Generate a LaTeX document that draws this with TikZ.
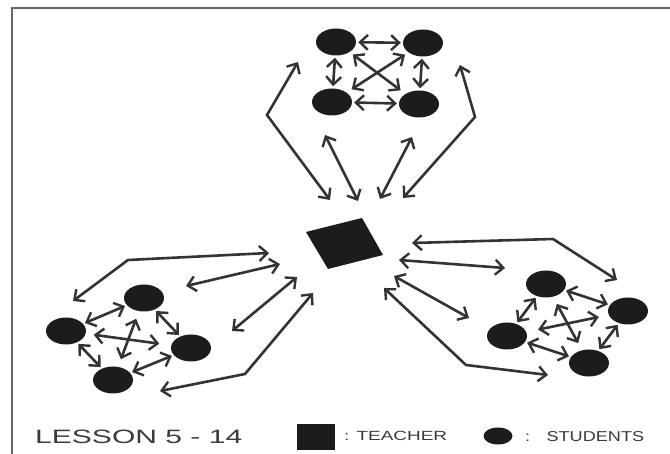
\documentclass[tikz,border=0pt]{standalone}
\usepackage{fontspec}
\setmainfont{Liberation Sans}
\usetikzlibrary{arrows.meta,shapes.geometric}
\definecolor{ink}{HTML}{1C1C1C}
\definecolor{arrowgray}{HTML}{333333}
\definecolor{textgray}{HTML}{3A3A3A}
\definecolor{framegray}{HTML}{666666}
\tikzset{
  barbs/.style={{Straight Barb[length=8pt,width=15pt,line width=2.4pt]}-{Straight Barb[length=8pt,width=15pt,line width=2.4pt]}},
  student/.style={ellipse, fill=ink, draw=none, inner sep=0pt,
    minimum width=40pt, minimum height=27pt},
  link/.style={arrowgray, line width=2.6pt, line join=miter, barbs,
    shorten <=2pt, shorten >=2pt},
  flow/.style={arrowgray, line width=2.6pt, line join=miter, barbs},
  legendtext/.style={inner sep=0pt, anchor=south west, text=textgray}
}
\begin{document}
\begin{tikzpicture}[x=1pt, y=-1pt]
  \useasboundingbox (0,0) rectangle (670,454);
  % frame
  \draw[framegray, line width=1.3pt] (12,454) -- (12,8) -- (670,8);

  % teacher
  \fill[ink] (306,232) -- (362,218) -- (383,255) -- (328,269) -- cycle;
  \coordinate (teacher) at (345,243);

  % top group of students
  \node[student] (t1) at (336,42) {};
  \node[student] (t2) at (423,43) {};
  \node[student] (t3) at (332,102) {};
  \node[student] (t4) at (419,104) {};
  \draw[link] (t1) -- (t2);
  \draw[link] (t3) -- (t4);
  \draw[link] (t1) -- (t3);
  \draw[link] (t2) -- (t4);
  \draw[link, shorten <=4pt, shorten >=6pt] (t1) -- (t4);
  \draw[link, shorten <=4pt, shorten >=6pt] (t2) -- (t3);

  % left group of students
  \node[student] (l1) at (144,298) {};
  \node[student] (l2) at (66,331) {};
  \node[student] (l3) at (191,348) {};
  \node[student] (l4) at (113,380) {};
  \draw[link] (l2) -- (l1);
  \draw[link] (l2) -- (l4);
  \draw[link] (l1) -- (l3);
  \draw[link] (l4) -- (l3);
  \draw[link, shorten <=8pt, shorten >=12pt] (l2) -- (l3);
  \draw[link, shorten <=8pt, shorten >=8pt] (l1) -- (l4);

  % right group of students
  \node[student] (r1) at (546,284) {};
  \node[student] (r2) at (628,311) {};
  \node[student] (r3) at (507,336) {};
  \node[student] (r4) at (589,363) {};
  \draw[link] (r1) -- (r3);
  \draw[link] (r1) -- (r2);
  \draw[link] (r3) -- (r4);
  \draw[link] (r2) -- (r4);
  \draw[link, shorten <=12pt, shorten >=10pt] (r3) -- (r2);
  \draw[link, shorten <=8pt, shorten >=8pt] (r1) -- (r4);

  % teacher <-> top group
  \coordinate (ta1) at (298,62);  \coordinate (tb1) at (267,115); \coordinate (tc1) at (330,200);
  \coordinate (ta2) at (325,135); \coordinate (tc2) at (358,201);
  \coordinate (ta3) at (412,137); \coordinate (tc3) at (380,199);
  \coordinate (ta4) at (460,65);  \coordinate (tb4) at (475,117); \coordinate (tc4) at (403,198);
  \draw[flow] (ta1) -- (tb1) -- (tc1);
  \draw[flow] (ta2) -- (tc2);
  \draw[flow] (ta3) -- (tc3);
  \draw[flow] (ta4) -- (tb4) -- (tc4);

  % teacher <-> left group
  \coordinate (la1) at (73,301);  \coordinate (lb1) at (128,260); \coordinate (lc1) at (269,253);
  \coordinate (la2) at (186,286); \coordinate (lc2) at (280,264);
  \coordinate (la3) at (232,331); \coordinate (lc3) at (297,277);
  \coordinate (la4) at (160,391); \coordinate (lb4) at (245,374); \coordinate (lc4) at (313,293);
  \draw[flow] (la1) -- (lb1) -- (lc1);
  \draw[flow] (la2) -- (lc2);
  \draw[flow] (la3) -- (lc3);
  \draw[flow] (la4) -- (lb4) -- (lc4);

  % teacher <-> right group
  \coordinate (ra1) at (412,243); \coordinate (rb1) at (553,239); \coordinate (rc1) at (617,280);
  \coordinate (ra2) at (399,260); \coordinate (rc2) at (505,268);
  \coordinate (ra3) at (394,276); \coordinate (rc3) at (469,318);
  \coordinate (ra4) at (384,288); \coordinate (rb4) at (466,365); \coordinate (rc4) at (548,375);
  \draw[flow] (ra1) -- (rb1) -- (rc1);
  \draw[flow] (ra2) -- (rc2);
  \draw[flow] (ra3) -- (rc3);
  \draw[flow] (ra4) -- (rb4) -- (rc4);

  % legend
  \node[legendtext] (lesson) at (35,444) {\resizebox{207pt}{13.5pt}{LESSON 5 - 14}};
  \fill[ink] (297,424) rectangle (335,450);
  \node[legendtext] (teacherkey) at (344,441) {\resizebox{103pt}{9.3pt}{: TEACHER}};
  \node[ellipse, fill=ink, inner sep=0pt, minimum width=29pt, minimum height=17pt] (studentkey) at (498,436) {};
  \node[legendtext] (studentskey) at (525,442) {\resizebox{119pt}{10pt}{:\hspace{0.9em}STUDENTS}};
\end{tikzpicture}
\end{document}
